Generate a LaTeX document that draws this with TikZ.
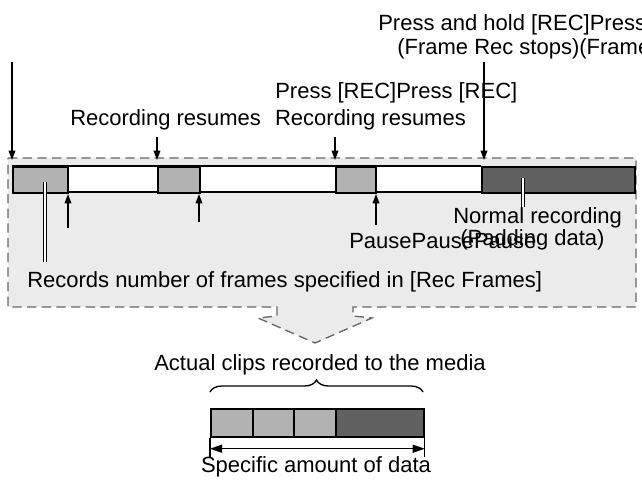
\documentclass[tikz,border=0pt]{standalone}
\usepackage{fontspec}
\setmainfont{Liberation Sans}
\usetikzlibrary{arrows.meta,decorations.pathreplacing}
\begin{document}
\begin{tikzpicture}[x=0.75pt,y=-0.75pt,
  lbl/.style={font=\fontsize{16.5}{18}\selectfont,inner sep=0pt},
  light/.style={fill=black!30,draw=black,line width=1.3pt},
  dark/.style={fill=black!62,draw=black,line width=1.3pt},
  arr/.style={-{Triangle[length=7pt,width=5pt]},line width=1pt},
  wline/.style={draw=black,line width=3.2pt}]
\useasboundingbox (0,0) rectangle (642,484);
\clip (0,0) rectangle (642,484);
% region
\draw[dash pattern=on 7pt off 4pt,fill=black!8,draw=black!60,line width=1pt]
 (8,158) -- (636,158) -- (636,307) -- (353,307) -- (353,316) -- (372,318) -- (315,343) -- (258,318) -- (277,316) -- (277,307) -- (8,307) -- cycle;
% top bar
\fill[white] (12,166) rectangle (481,192);
\draw[line width=1pt] (12,166) -- (481,166) (12,192) -- (481,192);
\node[light,minimum width=55*0.75pt,minimum height=26*0.75pt,anchor=north west,inner sep=0pt] (b1) at (12,166) {};
\node[light,minimum width=42*0.75pt,minimum height=26*0.75pt,anchor=north west,inner sep=0pt] (b2) at (157,166) {};
\node[light,minimum width=40*0.75pt,minimum height=26*0.75pt,anchor=north west,inner sep=0pt] (b3) at (335,166) {};
\node[dark,minimum width=153*0.75pt,minimum height=26*0.75pt,anchor=north west,inner sep=0pt] (b4) at (481,166) {};
% texts
\node[lbl,anchor=west] (t1) at (378,25) {Press and hold [REC]Press and hold [REC]};
\node[lbl,anchor=west] (t2) at (397,49) {(Frame Rec stops)(Frame Rec stops)};
\node[lbl,anchor=west] (t3) at (275,93) {Press [REC]Press [REC]};
\node[lbl,anchor=west] (t4) at (70,120) {Recording resumes\hspace{6pt} Recording resumes};
\node[lbl,anchor=west] (t5) at (453,218) {Normal recording};
\node[lbl,anchor=west] (t6) at (460,240) {(Padding data)};
\node[lbl,anchor=west] (t7) at (349,241) {PausePausePause};
\node[lbl,anchor=west] (t8) at (27,282) {Records number of frames specified in [Rec Frames]};
\node[lbl] (t9) at (320,365) {Actual clips recorded to the media};
\node[lbl] (t10) at (316,467) {Specific amount of data};
% down arrows
\coordinate (a1) at (12,62); \coordinate (a1e) at (12,160);
\coordinate (a2) at (484,62); \coordinate (a2e) at (484,160);
\coordinate (a3) at (157,137); \coordinate (a3e) at (157,160);
\coordinate (a4) at (335,137); \coordinate (a4e) at (335,160);
\foreach \s/\e in {a1/a1e,a2/a2e,a3/a3e,a4/a4e} \draw[arr] (\s) -- (\e);
% up arrows
\coordinate (u1) at (68,228); \coordinate (u1e) at (68,194);
\coordinate (u2) at (199,222); \coordinate (u2e) at (199,194);
\coordinate (u3) at (376,225); \coordinate (u3e) at (376,194);
\foreach \s/\e in {u1/u1e,u2/u2e,u3/u3e} \draw[arr] (\s) -- (\e);
% white leader lines
\coordinate (w1) at (45,182); \coordinate (w1e) at (45,262);
\coordinate (w2) at (523,178); \coordinate (w2e) at (523,207);
\foreach \s/\e in {w1/w1e,w2/w2e} {\draw[wline] (\s) -- (\e); \draw[white,line width=1.8pt] (\s) -- (\e);}
% bottom bar
\node[light,minimum width=42*0.75pt,minimum height=28*0.75pt,anchor=north west,inner sep=0pt] (c1) at (210,408) {};
\node[light,minimum width=41*0.75pt,minimum height=28*0.75pt,anchor=north west,inner sep=0pt] (c2) at (252,408) {};
\node[light,minimum width=42*0.75pt,minimum height=28*0.75pt,anchor=north west,inner sep=0pt] (c3) at (293,408) {};
\node[dark,minimum width=88*0.75pt,minimum height=28*0.75pt,anchor=north west,inner sep=0pt] (c4) at (335,408) {};
\coordinate (br1) at (210,392); \coordinate (br2) at (423,392);
\draw[line width=1pt,decorate,decoration={brace,amplitude=9pt}] (br1) -- (br2);
\draw[line width=0.8pt] (c1.south west) -- ++(0,19) (c4.south east) -- ++(0,19);
\draw[{Triangle[length=9pt,width=6pt]}-{Triangle[length=9pt,width=6pt]},line width=1pt] ([yshift=-11*0.75pt]c1.south west) -- ([yshift=-11*0.75pt]c4.south east);
\end{tikzpicture}
\end{document}
